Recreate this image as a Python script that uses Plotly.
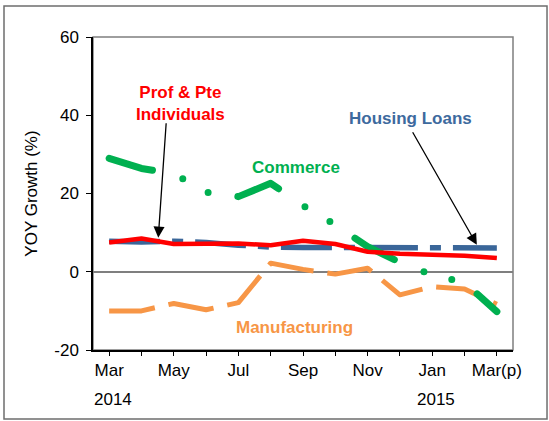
import plotly.graph_objects as go

# ---------------- data ----------------
categories = ["Mar-14", "Apr-14", "May-14", "Jun-14", "Jul-14", "Aug-14", "Sep-14",
              "Oct-14", "Nov-14", "Dec-14", "Jan-15", "Feb-15", "Mar-15"]
month_tick_text = ["Mar", "", "May", "", "Jul", "", "Sep", "", "Nov", "", "Jan", "", "Mar(p)"]
year_label_text = ["2014", "2015"]
year_label_cat = ["Mar-14", "Jan-15"]
y_tick_vals = [-20, 0, 20, 40, 60]
y_tick_text = ["-20", "0", "20", "40", "60"]

manufacturing = [-10.0, -10.0, -8.1, -9.7, -7.9, 2.2, 0.6, -0.6, 0.9, -5.9, -3.8, -4.4, -8.3]
housing_loans = [7.8, 7.6, 7.8, 7.5, 6.8, 6.3, 6.2, 6.2, 6.3, 6.4, 6.4, 6.2, 6.1]
commerce = [29.0, 26.4, 25.1, 20.3, 19.2, 22.6, 16.9, 12.0, 6.4, 2.4, -0.8, -2.8, -10.2]
prof_pte = [7.5, 8.5, 7.1, 7.2, 7.2, 6.8, 7.9, 7.1, 5.1, 4.6, 4.3, 4.1, 3.5]

FONT = "Arial, 'Liberation Sans', sans-serif"
C_ORANGE = "#F79646"
C_BLUE = "#3A6699"
C_GREEN = "#00B050"
C_RED = "#FF0000"

fig = go.Figure()
fig.add_trace(go.Scatter(x=categories, y=manufacturing, mode="lines", name="Manufacturing",
                         line=dict(color=C_ORANGE, width=5, dash="46px,14px")))
fig.add_trace(go.Scatter(x=categories, y=housing_loans, mode="lines", name="Housing Loans",
                         line=dict(color=C_BLUE, width=5.5, dash="51px,12px,11px,12px")))
fig.add_trace(go.Scatter(x=categories, y=commerce, mode="lines", name="Commerce",
                         line=dict(color=C_GREEN, width=7, dash="45px,32px,0px,29px,0px,30px")))
fig.add_trace(go.Scatter(x=categories, y=prof_pte, mode="lines", name="Prof & Pte Individuals",
                         line=dict(color=C_RED, width=4.5)))

annotations = [
    dict(x=2.2, y=43.1, text="<b>Prof & Pte<br>Individuals</b>", font=dict(color=C_RED, size=17)),
    dict(x=9.33, y=39.2, text="<b>Housing Loans</b>", font=dict(color="#3D6A9E", size=17)),
    dict(x=5.78, y=26.7, text="<b>Commerce</b>", font=dict(color=C_GREEN, size=17)),
    dict(x=5.75, y=-14.3, text="<b>Manufacturing</b>", font=dict(color=C_ORANGE, size=17)),
]
for a in annotations:
    a.update(xref="x", yref="y", showarrow=False, xanchor="center", yanchor="middle")

# arrows
annotations.append(dict(x=1.52, y=8.7, xref="x", yref="y", text="", showarrow=True,
                        ax=8, ay=-116, arrowhead=2, arrowsize=1.7, arrowwidth=1.3,
                        arrowcolor="black"))
annotations.append(dict(x=11.38, y=6.9, xref="x", yref="y", text="", showarrow=True,
                        ax=-65, ay=-114, arrowhead=2, arrowsize=1.7, arrowwidth=1.3,
                        arrowcolor="black"))

# year labels under the month labels
for txt, cat in zip(year_label_text, year_label_cat):
    annotations.append(dict(x=cat, y=0, xref="x", yref="paper", text=txt, showarrow=False,
                            xanchor="center", yanchor="top", yshift=-38, xshift=4,
                            font=dict(size=17, color="black")))

fig.update_layout(
    width=549, height=421,
    margin=dict(l=93, r=36, t=37, b=71),
    paper_bgcolor="white", plot_bgcolor="white",
    showlegend=False,
    font=dict(family=FONT, size=17, color="black"),
    annotations=annotations,
    shapes=[
        # plot area frame (gray top/right)
        dict(type="rect", xref="paper", yref="paper", x0=0, x1=1, y0=0, y1=1,
             line=dict(color="#7F7F7F", width=1.5), layer="below"),
        # outer chart border
        dict(type="rect", xref="paper", yref="paper", x0=-0.2119, x1=1.081, y0=-0.2204, y1=1.099,
             line=dict(color="#6E6E6E", width=1.5), layer="below"),
    ],
)

fig.update_xaxes(
    type="category", categoryorder="array", categoryarray=categories,
    range=[-0.5, 12.5], tickmode="array", tickvals=categories, ticktext=month_tick_text,
    showline=True, linecolor="black", linewidth=1.5, ticks="outside", ticklen=4,
    tickwidth=1, tickcolor="black", showgrid=False, zeroline=False,
    tickfont=dict(size=17, color="black"), ticklabelstandoff=0,
)
fig.update_yaxes(
    range=[-20, 60], tickmode="array", tickvals=y_tick_vals, ticktext=y_tick_text,
    showline=True, linecolor="black", linewidth=1.5,
    ticks="outside", ticklen=5, tickwidth=1, tickcolor="black", showgrid=False,
    zeroline=True, zerolinecolor="#7F7F7F", zerolinewidth=1.5,
    tickfont=dict(size=17, color="black"), ticklabelstandoff=4,
    title=dict(text="YOY Growth (%)", font=dict(size=17, color="black"), standoff=12),
)

post_js = """
document.documentElement.style.margin = '0';
document.documentElement.style.overflow = 'hidden';
document.body.style.margin = '0';
document.body.style.padding = '0';
document.body.style.overflow = 'hidden';
var gd = document.getElementById('{plot_id}');
function fixCaps(){
  var traces = gd.querySelectorAll('.scatterlayer .trace');
  var caps = ['butt','butt','round','butt'];
  traces.forEach(function(t, i){
    t.querySelectorAll('path.js-line').forEach(function(p){
      p.style.strokeLinecap = caps[i] || 'butt';
      p.style.strokeLinejoin = 'round';
    });
  });
}
fixCaps();
gd.on('plotly_afterplot', fixCaps);
"""

fig.write_html("out.html", post_script=post_js, config={"displayModeBar": False})
